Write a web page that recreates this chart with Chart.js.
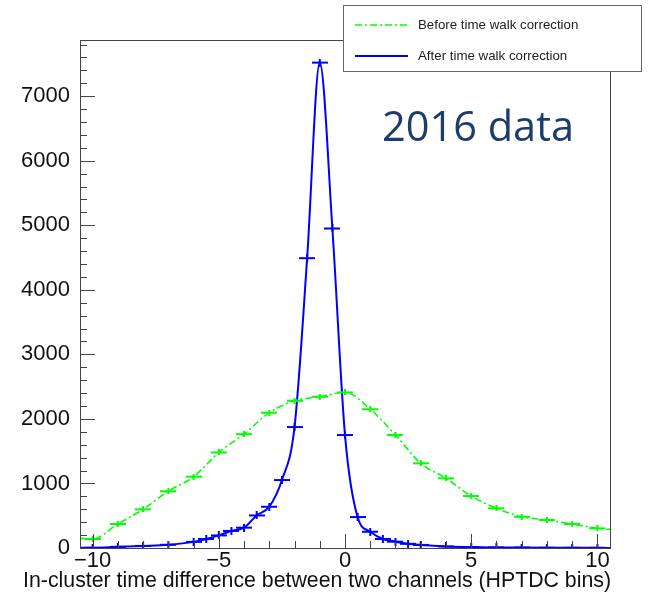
<!DOCTYPE html>
<html>
<head>
<meta charset="utf-8">
<script src="https://cdn.jsdelivr.net/npm/chart.js@4/dist/chart.umd.min.js"></script>
<style>
html, body { margin: 0; padding: 0; background: #fff; }
#wrap { width: 657px; height: 593px; position: relative; }
</style>
</head>
<body>
<div id="wrap"><canvas id="chart" width="657" height="593"></canvas></div>
<script>
// values (bin centre -> counts)
var beforeX = [-10.5, -10, -9, -8, -7, -6, -5, -4, -3, -2, -1, 0, 1, 2, 3, 4, 5, 6, 7, 8, 9, 10, 10.5];
var beforeY = [150, 140, 372, 600, 880, 1105, 1480, 1765, 2096, 2282, 2344, 2410, 2150, 1750, 1312, 1080, 805, 615, 485, 434, 372, 305, 290];

var afterX = [-10.5, -10, -9, -8, -7, -6, -5.5, -5, -4.5, -4, -3.5, -3, -2.5, -2, -1.5, -1, -0.5, 0, 0.5, 1, 1.5, 2, 2.5, 3, 4, 5, 6, 7, 8, 9, 10, 10.5];
var afterY = [2, 3, 18, 32, 50, 95, 140, 195, 265, 315, 505, 640, 1053, 1874, 4490, 7520, 4950, 1750, 480, 252, 140, 98, 65, 48, 25, 14, 9, 6, 4, 3, 2, 1];

var xMajor = [-10, -5, 0, 5, 10];
var yMajor = [0, 1000, 2000, 3000, 4000, 5000, 6000, 7000];

var seriesNames = ["Before time walk correction", "After time walk correction"];
var xTitle = "In-cluster time difference between two channels (HPTDC bins)";
var stamp = "2016 data";

function toPoints(xs, ys) {
    return xs.map(function (x, i) { return { x: x, y: ys[i] }; });
}

// ROOT-like error-bar marker: horizontal bar plus a short vertical one
function marker(color, w, h) {
    var c = document.createElement("canvas");
    c.width = w; c.height = h;
    var g = c.getContext("2d");
    g.strokeStyle = color;
    g.lineWidth = 2;
    g.beginPath();
    g.moveTo(0, h / 2); g.lineTo(w, h / 2);
    g.moveTo(w / 2, 0); g.lineTo(w / 2, h);
    g.stroke();
    return c;
}
var greenMark = marker("#00ff00", 16, 6);
var blueMark = marker("#0000ff", 16, 8);

function hideEdges(ctx) {
    var v = ctx.raw ? ctx.raw.x : 0;
    return (v <= -10.5 || v >= 10.5) ? 0 : 4;
}

var rootFrame = {
    id: "rootFrame",
    afterDraw: function (chart) {
        var ctx = chart.ctx, a = chart.chartArea;
        var xs = chart.scales.x, ys = chart.scales.y;
        ctx.save();
        ctx.strokeStyle = "#444";
        ctx.lineWidth = 1;
        ctx.strokeRect(Math.round(a.left) + 0.5, Math.round(a.top) + 0.5,
            Math.round(a.right - a.left), Math.round(a.bottom - a.top));

        // inward ticks
        ctx.beginPath();
        for (var v = -10; v <= 10; v++) {
            var px = Math.round(xs.getPixelForValue(v)) + 0.5;
            var len = (v % 5 === 0) ? 14 : 7;
            ctx.moveTo(px, a.bottom); ctx.lineTo(px, a.bottom - len);
        }
        for (var t = 0; t <= 7800; t += 200) {
            var py = Math.round(ys.getPixelForValue(t)) + 0.5;
            var l = (t % 1000 === 0) ? 15 : 7;
            ctx.moveTo(a.left, py); ctx.lineTo(a.left + l, py);
        }
        ctx.stroke();

        // x axis title, right aligned like ROOT (wider than the frame)
        ctx.font = "21.3px 'Liberation Sans', Arial, sans-serif";
        ctx.fillStyle = "#111";
        ctx.textAlign = "right";
        ctx.textBaseline = "alphabetic";
        ctx.fillText(xTitle, a.right + 1, 587);
        ctx.textAlign = "left";

        // legend box
        var bx = 343.5, by = 5.5, bw = 298, bh = 66;
        ctx.fillStyle = "#fff";
        ctx.fillRect(bx, by, bw, bh);
        ctx.strokeStyle = "#666";
        ctx.strokeRect(bx, by, bw, bh);
        var ds = chart.data.datasets;
        var rows = [25, 56];
        ctx.font = "13.3px 'Liberation Sans', Arial, sans-serif";
        ctx.textBaseline = "middle";
        for (var i = 0; i < ds.length; i++) {
            ctx.beginPath();
            ctx.strokeStyle = ds[i].borderColor;
            ctx.lineWidth = ds[i].borderWidth;
            ctx.setLineDash(ds[i].borderDash || []);
            ctx.moveTo(355, rows[i]); ctx.lineTo(408, rows[i]);
            ctx.stroke();
            ctx.setLineDash([]);
            ctx.fillStyle = "#222";
            ctx.fillText(ds[i].label, 418, rows[i]);
        }

        // "2016 data" stamp
        ctx.font = "41.5px 'Open Sans', sans-serif";
        ctx.fillStyle = "#1c3c6e";
        ctx.textBaseline = "alphabetic";
        ctx.fillText(stamp, 382, 141);
        ctx.restore();
    }
};

var chart = new Chart(document.getElementById("chart").getContext("2d"), {
    type: "line",
    data: {
        datasets: [{
            label: seriesNames[0],
            data: toPoints(beforeX, beforeY),
            borderColor: "#00ff00",
            borderWidth: 1.6,
            borderDash: [7, 3, 2, 3],
            cubicInterpolationMode: "monotone",
            pointStyle: greenMark,
            pointRadius: hideEdges,
            fill: false
        }, {
            label: seriesNames[1],
            data: toPoints(afterX, afterY),
            borderColor: "#0000ff",
            borderWidth: 2,
            cubicInterpolationMode: "monotone",
            pointStyle: blueMark,
            pointRadius: hideEdges,
            fill: false
        }]
    },
    options: {
        responsive: false,
        animation: false,
        layout: { padding: { top: 40, right: 47, left: 0, bottom: 0 } },
        plugins: { legend: { display: false }, tooltip: { enabled: false } },
        scales: {
            x: {
                type: "linear",
                min: -10.5,
                max: 10.5,
                grid: { display: false, drawTicks: false },
                border: { display: false },
                afterBuildTicks: function (s) { s.ticks = xMajor.map(function (v) { return { value: v }; }); },
                afterFit: function (s) { s.height = 45; },
                ticks: {
                    padding: 0,
                    maxRotation: 0,
                    color: "#111",
                    font: { family: "'Liberation Sans', Arial, sans-serif", size: 22 },
                    callback: function (v) { return String(v).replace("-", "\u2212"); }
                }
            },
            y: {
                min: 0,
                max: 7870,
                grid: { display: false, drawTicks: false },
                border: { display: false },
                afterBuildTicks: function (s) { s.ticks = yMajor.map(function (v) { return { value: v }; }); },
                afterFit: function (s) { s.width = 80; },
                ticks: {
                    padding: 10,
                    color: "#111",
                    font: { family: "'Liberation Sans', Arial, sans-serif", size: 22 },
                    callback: function (v) { return String(v); }
                }
            }
        }
    },
    plugins: [rootFrame]
});
</script>
</body>
</html>
